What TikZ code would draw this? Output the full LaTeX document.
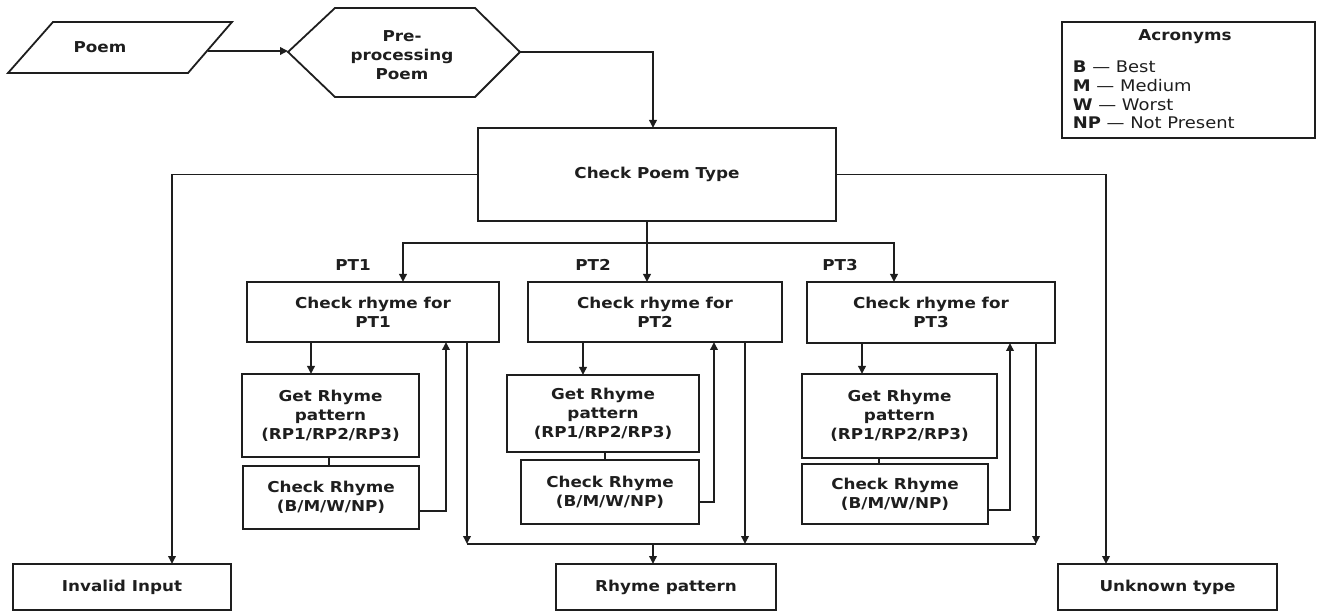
\documentclass[tikz,border=0pt]{standalone}
\usepackage{fontspec}
\setmainfont[FakeStretch=1.12]{DejaVu Sans}
\usetikzlibrary{arrows.meta}
\newcommand\bxfont{\fontsize{15}{19}\selectfont\bfseries}
\newcommand\acfont{\fontsize{16}{18.7}\selectfont}
\definecolor{ink}{HTML}{1E1E1E}
\begin{document}
\begin{tikzpicture}[x=1pt,y=-1pt,
  line width=1.8pt, draw=ink, text=ink,
  arr/.style={-{Triangle[length=8pt,width=7.5pt]}},
  box/.style={draw, inner sep=0pt, outer sep=0pt, align=center, font=\bxfont},
  lbl/.style={inner sep=0pt, align=center, font=\bxfont},
  acr/.style={inner sep=0pt, anchor=west, font=\acfont}]
\useasboundingbox (0,0) rectangle (1318,612);

% input parallelogram
\draw (53,22) -- (232,22) -- (188,73) -- (8,73) -- cycle;
\node[lbl] (poem) at (100,47) {Poem};
\coordinate (poemR) at (208,51);

% pre-processing hexagon
\draw (288,52) -- (335,8) -- (475,8) -- (520,52) -- (475,97) -- (335,97) -- cycle;
\node[lbl] (pre) at (402,55) {Pre-\\processing\\Poem};
\coordinate (hexL) at (288,51);
\coordinate (hexR) at (520,52);

% main boxes
\node[box, minimum width=358pt, minimum height=93pt] (cpt) at (657,174.5) {Check Poem Type};

\node[box, minimum width=252pt, minimum height=60pt] (pt1) at (373,312) {Check rhyme for\\PT1};
\node[box, minimum width=254pt, minimum height=60pt] (pt2) at (655,312) {Check rhyme for\\PT2};
\node[box, minimum width=248pt, minimum height=61pt] (pt3) at (931,312.5) {Check rhyme for\\PT3};

\node[lbl] (l1) at (353,265) {PT1};
\node[lbl] (l2) at (593,265) {PT2};
\node[lbl] (l3) at (840,265) {PT3};

\node[box, minimum width=177pt, minimum height=83pt] (gr1) at (330.5,415.5) {Get Rhyme\\pattern\\(RP1/RP2/RP3)};
\node[box, minimum width=176pt, minimum height=63pt] (cr1) at (331,497.5) {Check Rhyme\\(B/M/W/NP)};
\node[box, minimum width=192pt, minimum height=77pt] (gr2) at (603,413.5) {Get Rhyme\\pattern\\(RP1/RP2/RP3)};
\node[box, minimum width=178pt, minimum height=64pt] (cr2) at (610,492) {Check Rhyme\\(B/M/W/NP)};
\node[box, minimum width=195pt, minimum height=84pt] (gr3) at (899.5,416) {Get Rhyme\\pattern\\(RP1/RP2/RP3)};
\node[box, minimum width=186pt, minimum height=60pt] (cr3) at (895,494) {Check Rhyme\\(B/M/W/NP)};

\node[box, minimum width=218pt, minimum height=46pt] (inv) at (122,587) {Invalid Input};
\node[box, minimum width=220pt, minimum height=46pt] (rp) at (666,587) {Rhyme pattern};
\node[box, minimum width=219pt, minimum height=46pt] (unk) at (1167.5,587) {Unknown type};

% legend
\node[draw, line width=1.1pt, minimum width=253pt, minimum height=116pt, inner sep=0pt] (legend) at (1188.5,80) {};
\node[lbl] (legt) at (1185,37) {Acronyms};
\node[acr] (a1) at (1072,67) {\textbf{B} --- Best};
\node[acr] (a2) at (1072,86) {\textbf{M} --- Medium};
\node[acr] (a3) at (1072,104.5) {\textbf{W} --- Worst};
\node[acr] (a4) at (1072,123) {\textbf{NP} --- Not Present};

% top flow
\draw[arr] (poemR) -- (hexL);
\draw[arr] (hexR) -| (653,0 |- cpt.north);

% poem type branches
\coordinate (busT) at (647,243);
\draw[arr] (647,0 |- cpt.south) -- (647,0 |- pt2.north);
\draw[arr] (busT) -| (403,0 |- pt1.north);
\draw[arr] (busT) -| (894,0 |- pt3.north);
\draw[arr] (cpt.west) -| (172,0 |- inv.north);
\draw[arr] (cpt.east) -| (1106,0 |- unk.north);

% PT1 loop
\draw[arr] (311,0 |- pt1.south) -- (311,0 |- gr1.north);
\draw (329,0 |- gr1.south) -- (329,0 |- cr1.north);
\draw[arr] (cr1.east |- 0,511) -| (446,0 |- pt1.south);
% PT2 loop
\draw[arr] (583,0 |- pt2.south) -- (583,0 |- gr2.north);
\draw (605,0 |- gr2.south) -- (605,0 |- cr2.north);
\draw[arr] (cr2.east |- 0,502) -| (714,0 |- pt2.south);
% PT3 loop
\draw[arr] (862,0 |- pt3.south) -- (862,0 |- gr3.north);
\draw (879,0 |- gr3.south) -- (879,0 |- cr3.north);
\draw[arr] (cr3.east |- 0,510) -| (1010,0 |- pt3.south);

% collecting results
\coordinate (b1) at (467,544);
\coordinate (b2) at (745,544);
\coordinate (b3) at (1036,544);
\coordinate (bm) at (653,544);
\draw (b1) -- (b3);
\draw[arr] (467,0 |- pt1.south) -- (b1);
\draw[arr] (745,0 |- pt2.south) -- (b2);
\draw[arr] (1036,0 |- pt3.south) -- (b3);
\draw[arr] (bm) -- (bm |- rp.north);
\end{tikzpicture}
\end{document}
